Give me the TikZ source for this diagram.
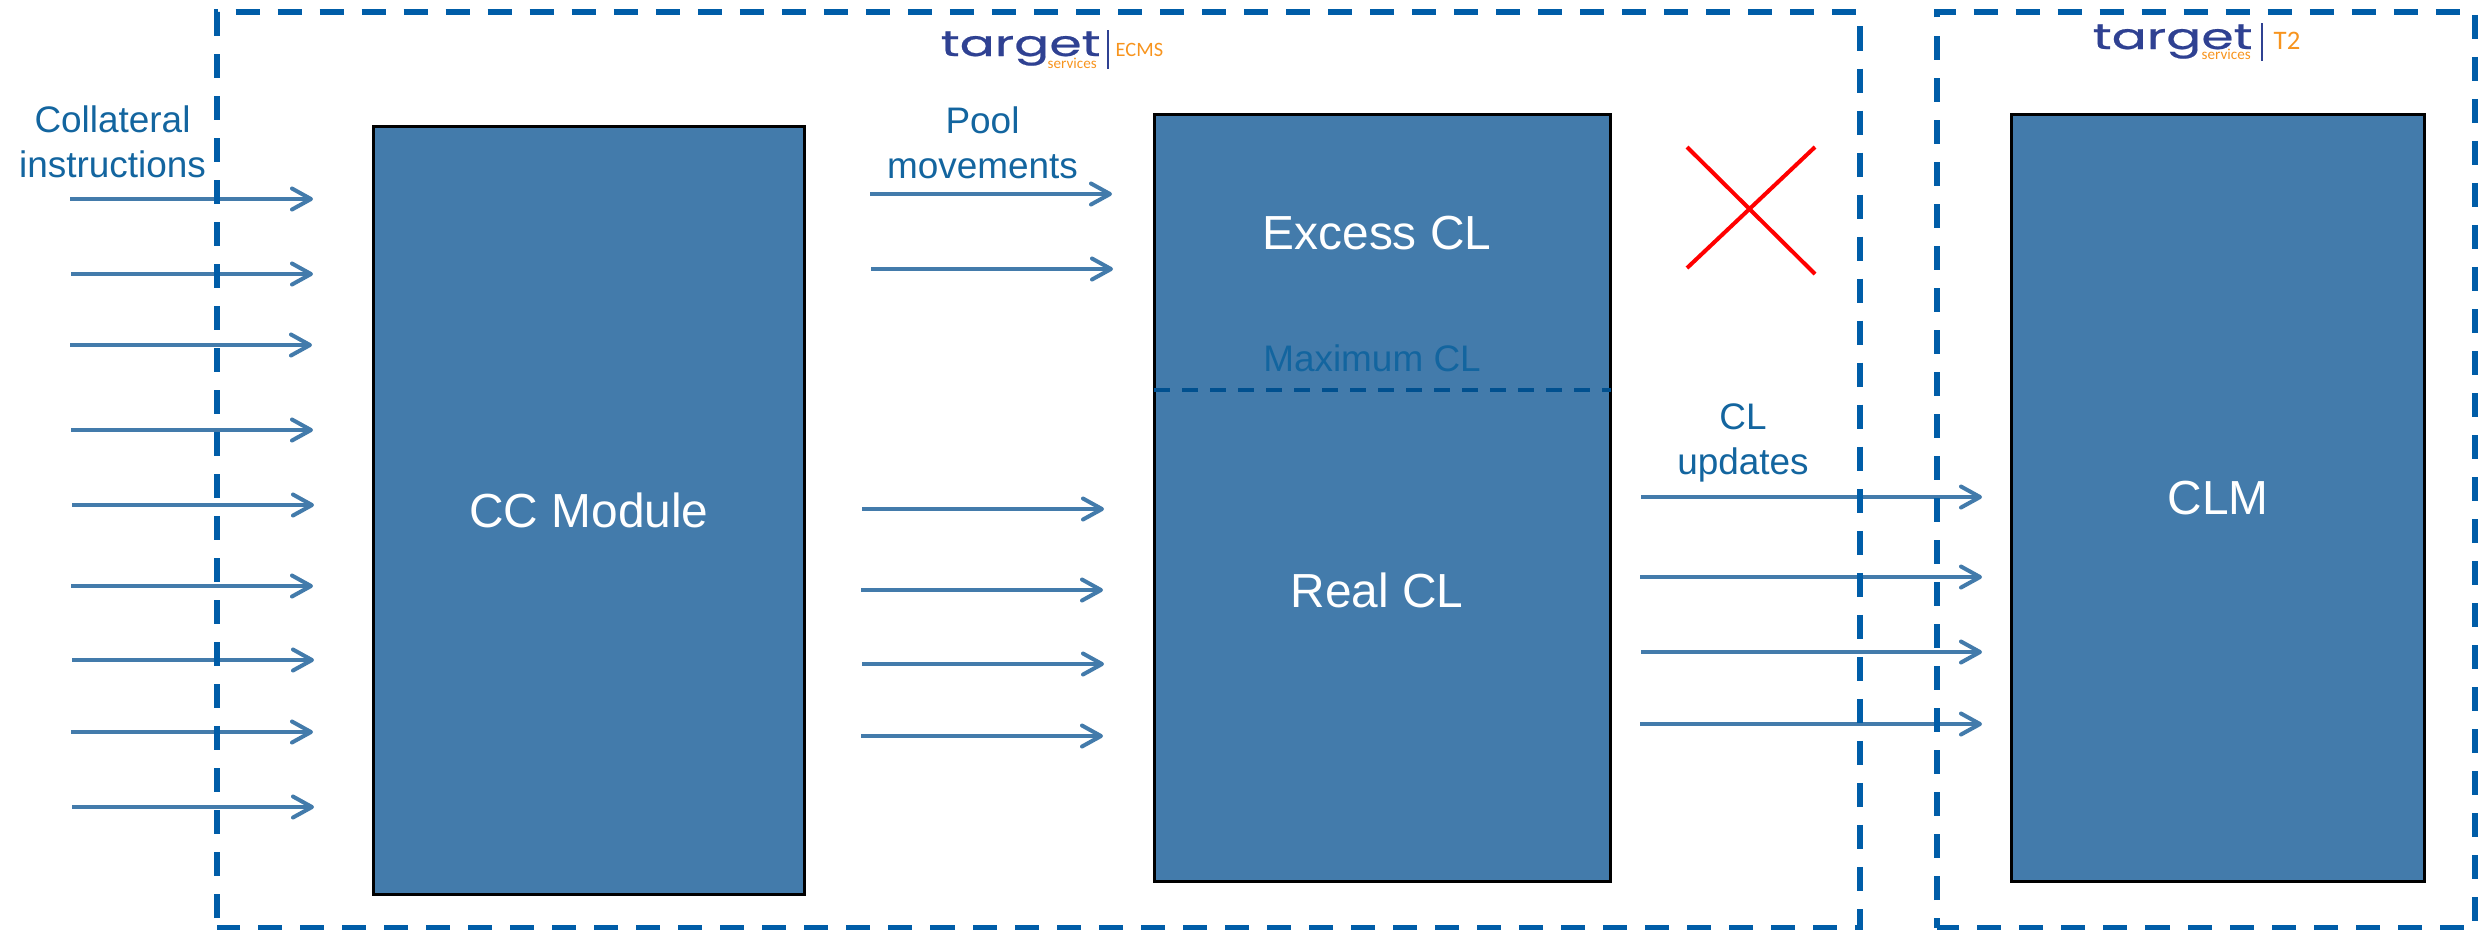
\documentclass[tikz,border=0pt]{standalone}
\usepackage{fontspec}
\setmainfont{Liberation Sans}
\newfontfamily\logofont[FakeStretch=1.45, FakeBold=0.6]{Poppins}
\newfontfamily\brandfont{Carlito}
\usetikzlibrary{arrows.meta}
\definecolor{zoneblue}{HTML}{005DA8}
\definecolor{boxblue}{HTML}{437BAB}
\definecolor{labelblue}{HTML}{13659F}
\definecolor{limitblue}{HTML}{00508F}
\definecolor{logoblue}{HTML}{2F4192}
\definecolor{logoorange}{HTML}{F7941E}

\begin{document}
\begin{tikzpicture}[x=0.01cm, y=-0.01cm, >={Straight Barb[round, length=0.19cm, width=0.21cm]},
	modbox/.style={draw=black, fill=boxblue, line width=0.03cm, text=white, font=\fontsize{13.6}{16}\selectfont},
	boxlabel/.style={text=white, font=\fontsize{13.6}{16}\selectfont, inner sep=0pt},
	flowlabel/.style={text=labelblue, align=center, inner sep=0pt, font=\fontsize{10.5}{12.8}\selectfont},
	flow/.style={boxblue, line width=0.04cm},
	zone/.style={draw=zoneblue, line width=0.06cm, dash pattern=on 0.24cm off 0.18cm},
	logoword/.style={text=logoblue, anchor=base west, inner sep=0pt, font=\logofont\fontsize{10.2}{12}\selectfont},
	logosub/.style={text=logoorange, anchor=base west, inner sep=0pt, font=\brandfont\fontsize{4.3}{5}\selectfont},
	logoname/.style={text=logoorange, anchor=base west, inner sep=0pt, font=\brandfont\fontsize{5.8}{7}\selectfont},
	logobar/.style={draw=logoblue, line width=0.025cm}]
	\useasboundingbox (0,0) rectangle (2488,929);

	% modules
	\node[modbox, minimum width=4.31cm, minimum height=7.67cm] (cc) at (589,510.5) {CC Module};
	\node[modbox, minimum width=4.56cm, minimum height=7.67cm] (pool) at (1382.5,498) {};
	\node[modbox, minimum width=4.13cm, minimum height=7.67cm] (clm) at (2218,498) {CLM};
	\node[boxlabel] (excess) at (1377,233.5) {Excess CL};
	\node[boxlabel] (real) at (1377,590) {Real CL};
	\node[flowlabel] (maxcl) at (1372,358) {Maximum CL};
	\coordinate (maxa) at (1154,390);
	\coordinate (maxb) at (1611,390);
	\draw[limitblue, line width=0.04cm, dash pattern=on 0.16cm off 0.12cm] (maxa) -- (maxb);

	% labels
	\node[flowlabel] (collateral) at (112.5,141.5) {Collateral\\instructions};
	\node[flowlabel] (movements) at (982.5,143) {Pool\\movements};
	\node[flowlabel] (updates) at (1743,443) {CL\\updates};

	% collateral instructions
	\coordinate (a1) at (70,199);   \coordinate (b1) at (313,199);
	\coordinate (a2) at (71,274);   \coordinate (b2) at (313,274);
	\coordinate (a3) at (70,345);   \coordinate (b3) at (312,345);
	\coordinate (a4) at (71,430);   \coordinate (b4) at (313,430);
	\coordinate (a5) at (72,505);   \coordinate (b5) at (314,505);
	\coordinate (a6) at (71,586);   \coordinate (b6) at (313,586);
	\coordinate (a7) at (72,660);   \coordinate (b7) at (314,660);
	\coordinate (a8) at (71,732);   \coordinate (b8) at (313,732);
	\coordinate (a9) at (72,807);   \coordinate (b9) at (314,807);

	% pool movements
	\coordinate (c1) at (870,194);  \coordinate (d1) at (1112,194);
	\coordinate (c2) at (871,269);  \coordinate (d2) at (1113,269);
	\coordinate (c3) at (862,509);  \coordinate (d3) at (1104,509);
	\coordinate (c4) at (861,590);  \coordinate (d4) at (1103,590);
	\coordinate (c5) at (862,664);  \coordinate (d5) at (1104,664);
	\coordinate (c6) at (861,736);  \coordinate (d6) at (1103,736);

	% CL updates
	\coordinate (e1) at (1641,497); \coordinate (f1) at (1982,497);
	\coordinate (e2) at (1640,577); \coordinate (f2) at (1982,577);
	\coordinate (e3) at (1641,652); \coordinate (f3) at (1982,652);
	\coordinate (e4) at (1640,724); \coordinate (f4) at (1982,724);

	\path[flow, ->] (a1) edge (b1)
	(a2) edge (b2)
	(a3) edge (b3)
	(a4) edge (b4)
	(a5) edge (b5)
	(a6) edge (b6)
	(a7) edge (b7)
	(a8) edge (b8)
	(a9) edge (b9)
	(c1) edge (d1)
	(c2) edge (d2)
	(c3) edge (d3)
	(c4) edge (d4)
	(c5) edge (d5)
	(c6) edge (d6)
	(e1) edge (f1)
	(e2) edge (f2)
	(e3) edge (f3)
	(e4) edge (f4);

	% platforms
	\draw[zone, dash phase=0.32cm] (217,928) |- (1860,12) |- cycle;
	\draw[zone, dash phase=0.14cm] (1937,928) |- (2475,12) |- cycle;

	% blocked link
	\coordinate (xa) at (1687,147);
	\coordinate (xb) at (1815,274);
	\coordinate (xc) at (1687,268);
	\coordinate (xd) at (1815,147);
	\draw[red, line width=0.04cm] (xa) -- (xb) (xc) -- (xd);

	% logos
	\node[logoword] (targeta) at (940,56) {target};
	\node[logosub] (servicesa) at (1047,68) {services};
	\node[logoname] (ecms) at (1115,56) {ECMS};
	\coordinate (bara) at (1108,30);
	\coordinate (barb) at (1108,69);
	\draw[logobar] (bara) -- (barb);

	\node[logoword] (targetb) at (2092,49) {target};
	\node[logosub] (servicesb) at (2201,59) {services};
	\node[logoname, font=\brandfont\fontsize{7.6}{9}\selectfont] (tb) at (2273,49) {T2};
	\coordinate (barc) at (2262,23);
	\coordinate (bard) at (2262,61);
	\draw[logobar] (barc) -- (bard);
\end{tikzpicture}
\end{document}
